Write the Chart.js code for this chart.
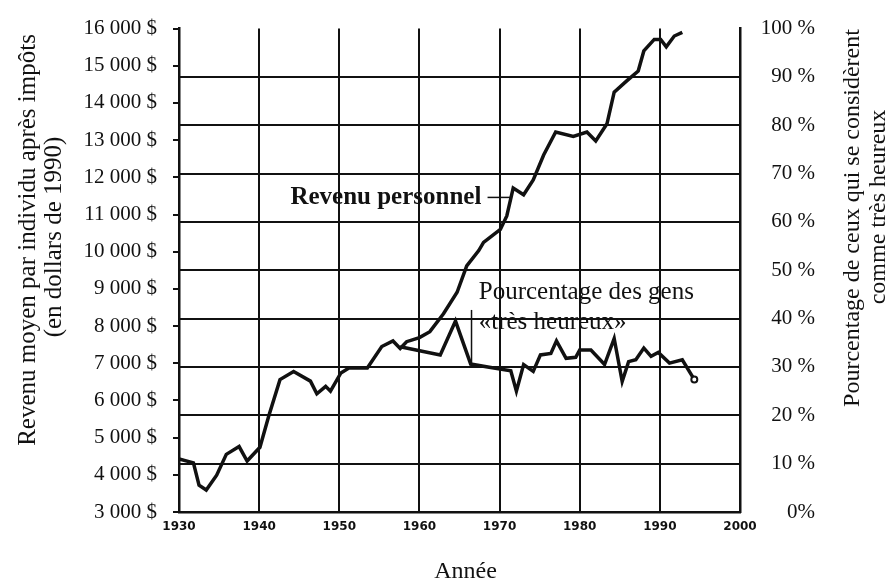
<!DOCTYPE html>
<html lang="fr">
<head>
<meta charset="utf-8">
<title>Revenu personnel et bonheur</title>
<script src="https://cdn.jsdelivr.net/npm/chart.js@4.4.1/dist/chart.umd.min.js"></script>
<style>
  html, body { margin: 0; padding: 0; background: #fff; }
  canvas { display: block; }
</style>
</head>
<body>
<canvas id="graphique" width="892" height="587"></canvas>
<script>
// Revenu moyen par individu (dollars de 1990)
const anneesRevenu = [1930, 1931.8, 1932.5, 1933.4, 1934.7, 1935.9, 1937.5, 1938.5, 1940.1, 1941.2,
  1942.6, 1944.3, 1946.4, 1947.2, 1948.3, 1948.9, 1950.2, 1951.2, 1953.5, 1955.3,
  1956.7, 1957.6, 1958.4, 1960.0, 1961.3, 1963.0, 1964.7, 1965.9, 1967.4, 1968.0,
  1970.1, 1970.9, 1971.7, 1973.0, 1974.2, 1975.5, 1977.0, 1979.2, 1980.9, 1982.0,
  1983.4, 1984.3, 1985.9, 1987.3, 1988.0, 1989.3, 1990.1, 1990.8, 1991.8, 1992.8]
const revenu = [4430, 4320, 3720, 3590, 3990, 4550, 4760, 4370, 4740, 5580,
  6560, 6780, 6520, 6180, 6380, 6250, 6740, 6870, 6870, 7450,
  7600, 7400, 7580, 7690, 7850, 8330, 8910, 9620, 10030, 10250,
  10600, 10960, 11710, 11530, 11930, 12600, 13220, 13100, 13220, 12980,
  13440, 14290, 14600, 14860, 15400, 15710, 15710, 15510, 15800, 15900]

// Pourcentage des gens « très heureux »
const anneesBonheur = [1957.6, 1962.6, 1964.5, 1966.4, 1968.9, 1971.4, 1972.1, 1973.0, 1974.2, 1975.1,
  1976.4, 1977.1, 1978.3, 1979.5, 1980.0, 1981.4, 1983.1, 1984.3, 1985.3, 1986.1,
  1987.0, 1988.0, 1988.9, 1989.8, 1991.2, 1992.8, 1994.3]
const bonheur = [34.2, 32.5, 39.5, 30.6, 29.9, 29.2, 25.0, 30.5, 29.1, 32.5,
  32.8, 35.4, 31.8, 32.0, 33.5, 33.5, 30.5, 35.9, 27.0, 31.1,
  31.5, 33.9, 32.2, 33.0, 30.8, 31.5, 27.4]

const NOIR = '#111'
const SERIF = '"Liberation Serif", "Times New Roman", serif'

Chart.defaults.font.family = SERIF
Chart.defaults.color = NOIR

function milliers(v) {
    return String(v).replace(/\B(?=(\d{3})+$)/, ' ') + ' $'
}

function texteVertical(ctx, texte, x, y) {
    ctx.save()
    ctx.translate(x, y)
    ctx.rotate(-Math.PI / 2)
    ctx.fillText(texte, 0, 0)
    ctx.restore()
}

// titres des axes et étiquettes des courbes
const annotations = {
    id: 'annotations',
    afterDraw(chart) {
        const { ctx } = chart
        const { x, y, y1 } = chart.scales
        ctx.save()
        ctx.fillStyle = NOIR
        ctx.strokeStyle = NOIR
        ctx.textBaseline = 'middle'
        ctx.textAlign = 'center'
        ctx.font = '25px ' + SERIF
        texteVertical(ctx, 'Revenu moyen par individu après impôts', 28, 240)
        texteVertical(ctx, '(en dollars de 1990)', 54, 237)
        ctx.font = '24px ' + SERIF
        texteVertical(ctx, 'Pourcentage de ceux qui se considèrent', 853, 218)
        texteVertical(ctx, 'comme très heureux', 879, 207)
        ctx.fillText('Année', (x.left + x.right) / 2 + 6, 572)

        // Revenu personnel
        ctx.textAlign = 'left'
        ctx.font = 'bold 25px ' + SERIF
        const yRev = y.getPixelForValue(11460)
        ctx.fillText('Revenu personnel', x.getPixelForValue(1943.9), yRev)
        ctx.lineWidth = 1.5
        ctx.beginPath()
        ctx.moveTo(x.getPixelForValue(1968.5), yRev)
        ctx.lineTo(x.getPixelForValue(1971.3), yRev)
        ctx.stroke()

        // Pourcentage des gens «très heureux»
        ctx.font = '25px ' + SERIF
        ctx.fillText('Pourcentage des gens', x.getPixelForValue(1967.4), y1.getPixelForValue(45.5))
        ctx.fillText('«très heureux»', x.getPixelForValue(1967.4), y1.getPixelForValue(39.3))
        ctx.beginPath()
        ctx.moveTo(x.getPixelForValue(1966.5), y1.getPixelForValue(41.8))
        ctx.lineTo(x.getPixelForValue(1966.5), y1.getPixelForValue(30.6))
        ctx.stroke()
        ctx.restore()
    }
}

new Chart(document.getElementById('graphique'), {
    type: 'line',
    data: {
        datasets: [
            {
                label: 'Revenu personnel',
                data: anneesRevenu.map((a, i) => ({ x: a, y: revenu[i] })),
                borderColor: NOIR,
                borderWidth: 3.5,
                pointRadius: 0,
                tension: 0,
                yAxisID: 'y'
            },
            {
                label: 'Pourcentage des gens «très heureux»',
                data: anneesBonheur.map((a, i) => ({ x: a, y: bonheur[i] })),
                borderColor: NOIR,
                borderWidth: 3.5,
                pointRadius: ctx => ctx.dataIndex === bonheur.length - 1 ? 3 : 0,
                pointBorderWidth: 2,
                pointBackgroundColor: '#fff',
                pointBorderColor: NOIR,
                tension: 0,
                yAxisID: 'y1'
            }
        ]
    },
    options: {
        responsive: false,
        animation: false,
        devicePixelRatio: 1,
        layout: { padding: { top: 24, right: 77, bottom: 0, left: 0 } },
        plugins: {
            legend: { display: false },
            tooltip: { enabled: false }
        },
        scales: {
            x: {
                type: 'linear',
                min: 1930,
                max: 2000,
                ticks: {
                    stepSize: 10,
                    callback: v => String(v),
                    font: { family: '"DejaVu Sans", sans-serif', weight: 'bold', size: 12 },
                    padding: 8
                },
                grid: {
                    color: ctx => (ctx.tick && (ctx.tick.value === 1930 || ctx.tick.value === 2000)) ? 'rgba(0,0,0,0)' : NOIR,
                    lineWidth: 2,
                    drawTicks: false
                },
                border: { color: NOIR, width: 2.5 },
                afterFit: s => { s.height = 75 }
            },
            y: {
                position: 'left',
                min: 3000,
                max: 16000,
                ticks: {
                    stepSize: 1000,
                    callback: v => milliers(v),
                    font: { size: 21 },
                    padding: 16
                },
                grid: { drawOnChartArea: false, drawTicks: true, tickLength: 6, color: NOIR, lineWidth: 2 },
                border: { color: NOIR, width: 2.5 },
                afterFit: s => { s.width = 179 }
            },
            y1: {
                position: 'right',
                min: 0,
                max: 100,
                ticks: {
                    stepSize: 10,
                    callback: v => v === 0 ? '0%' : v + ' %',
                    font: { size: 21 },
                    crossAlign: 'far'
                },
                grid: {
                    color: ctx => (ctx.tick && (ctx.tick.value === 100 || ctx.tick.value === 0)) ? 'rgba(0,0,0,0)' : NOIR,
                    lineWidth: 2,
                    drawTicks: false
                },
                border: { color: NOIR, width: 2.5 },
                afterFit: s => { s.width = 75 }
            }
        }
    },
    plugins: [annotations]
})
</script>
</body>
</html>
